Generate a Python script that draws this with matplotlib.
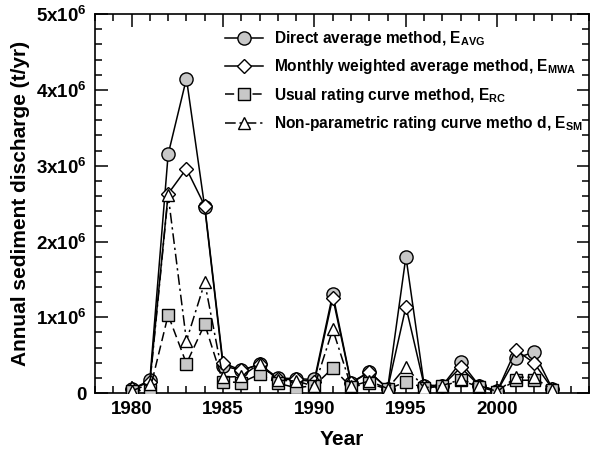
import matplotlib
matplotlib.use("Agg")
import matplotlib.pyplot as plt
from matplotlib.ticker import MultipleLocator, FixedLocator, FuncFormatter

plt.rcParams['font.family'] = ['Liberation Sans', 'DejaVu Sans']
plt.rcParams['font.weight'] = 'bold'
plt.rcParams['mathtext.fontset'] = 'custom'
plt.rcParams['mathtext.rm'] = 'Liberation Sans:bold'
plt.rcParams['mathtext.bf'] = 'Liberation Sans:bold'
plt.rcParams['mathtext.it'] = 'Liberation Sans:bold'

years = list(range(1980, 2004))
e_avg = [0.05, 0.17, 3.15, 4.15, 2.45, 0.36, 0.30, 0.38, 0.20, 0.19, 0.18, 1.31,
         0.14, 0.28, 0.06, 1.80, 0.10, 0.10, 0.41, 0.10, 0.03, 0.46, 0.54, 0.06]
e_mwa = [0.05, 0.15, 2.63, 2.96, 2.47, 0.40, 0.30, 0.38, 0.18, 0.18, 0.15, 1.26,
         0.13, 0.28, 0.06, 1.14, 0.10, 0.10, 0.34, 0.10, 0.03, 0.57, 0.40, 0.06]
e_rc = [0.03, 0.04, 1.03, 0.39, 0.91, 0.15, 0.14, 0.25, 0.13, 0.07, 0.10, 0.33,
        0.08, 0.13, 0.05, 0.15, 0.07, 0.09, 0.17, 0.08, 0.02, 0.17, 0.17, 0.04]
e_sm = [0.03, 0.12, 2.61, 0.69, 1.46, 0.21, 0.22, 0.39, 0.17, 0.16, 0.09, 0.84,
        0.09, 0.16, 0.06, 0.35, 0.07, 0.10, 0.18, 0.10, 0.02, 0.21, 0.21, 0.04]
labels = [r'Direct average method, E$_{\mathrm{AVG}}$',
          r'Monthly weighted average method, E$_{\mathrm{MWA}}$',
          r'Usual rating curve method, E$_{\mathrm{RC}}$',
          r'Non-parametric rating curve metho d, E$_{\mathrm{SM}}$']
xticks = [1980, 1985, 1990, 1995, 2000]

scale = 1e6
gray = '#c8c8c8'

fig = plt.figure(figsize=(5.9, 4.55), dpi=100)
ax = fig.add_axes([0.161, 0.136, 0.837, 0.833])

lw = 1.1
ms = 9
ax.plot(years, [v * scale for v in e_avg], '-', color='black', lw=lw, marker='o',
        ms=ms + 0.5, mfc=gray, mec='black', mew=1.0, label=labels[0], zorder=3)
ax.plot(years, [v * scale for v in e_mwa], '-', color='black', lw=lw, marker='D',
        ms=ms - 1.5, mfc='white', mec='black', mew=1.0, label=labels[1], zorder=4)
ax.plot(years, [v * scale for v in e_rc], color='black', lw=lw, ls=(0, (6, 3)),
        marker='s', ms=ms - 1, mfc=gray, mec='black', mew=1.0, label=labels[2], zorder=5)
ax.plot(years, [v * scale for v in e_sm], color='black', lw=lw, ls=(0, (7, 2.5, 1.5, 2.5)),
        marker='^', ms=ms, mfc='white', mec='black', mew=1.0, label=labels[3], zorder=6)

ax.set_xlim(1978, 2005)
ax.set_ylim(0, 5e6)
ax.xaxis.set_major_locator(FixedLocator(xticks))
ax.xaxis.set_minor_locator(MultipleLocator(1))
ax.yaxis.set_major_locator(MultipleLocator(1e6))
ax.yaxis.set_minor_locator(MultipleLocator(0.2e6))


def yfmt(v, pos):
    n = int(round(v / 1e6))
    if n == 0:
        return '0'
    return r'%dx10$^{\mathrm{6}}$' % n


ax.yaxis.set_major_formatter(FuncFormatter(yfmt))
ax.tick_params(which='both', direction='in', top=True, right=True, width=1.1)
ax.tick_params(which='major', length=9, labelsize=13.5, pad=6)
ax.tick_params(which='minor', length=5)
for lab in ax.get_xticklabels() + ax.get_yticklabels():
    lab.set_fontweight('bold')
for s in ax.spines.values():
    s.set_linewidth(1.2)

ax.set_xlabel('Year', fontsize=15, fontweight='bold', labelpad=8)
ax.set_ylabel('Annual sediment discharge (t/yr)', fontsize=15, fontweight='bold', labelpad=4)

leg = ax.legend(loc='upper left', bbox_to_anchor=(0.245, 0.985), frameon=False,
                fontsize=11.2, handlelength=2.4, handletextpad=0.7, labelspacing=0.6,
                borderaxespad=0.2)
for t in leg.get_texts():
    t.set_fontweight('bold')

fig.savefig('out.png', dpi=100)
